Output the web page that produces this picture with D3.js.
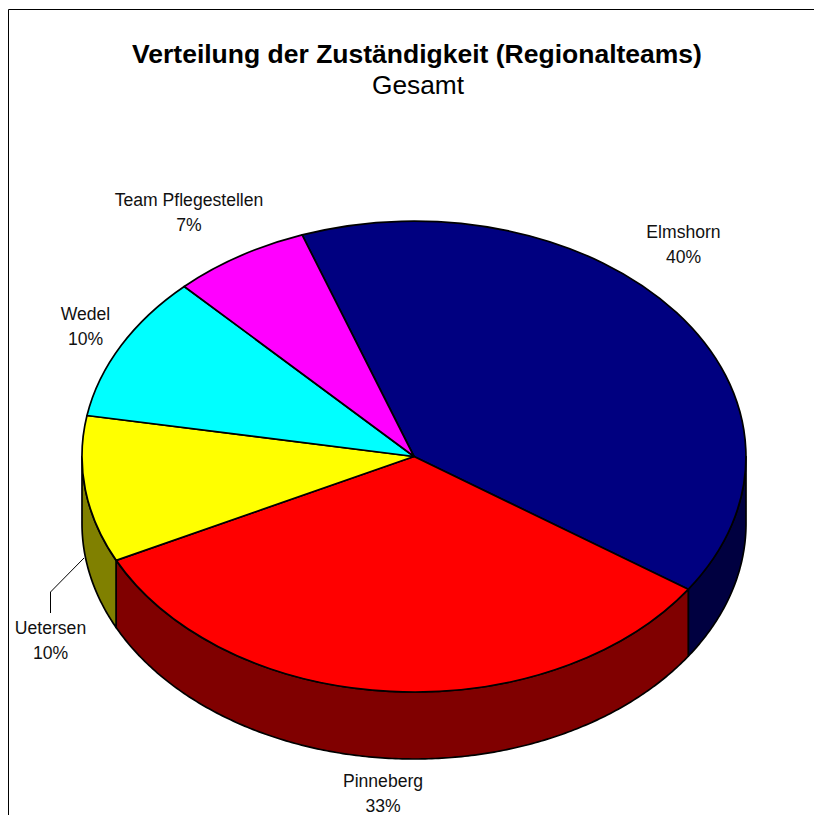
<!DOCTYPE html>
<html><head><meta charset="utf-8">
<script src="https://cdn.jsdelivr.net/npm/d3@7"></script>
<style>html,body{margin:0;padding:0;background:#fff}svg{display:block}</style></head>
<body><svg id="c" width="814" height="815"></svg>
<script>
const categories = ["Elmshorn","Pinneberg","Uetersen","Wedel","Team Pflegestellen"];
const values = [40,33.2,10.05,10.05,6.7];
const topColors = ["#000080","#ff0000","#ffff00","#00ffff","#ff00ff"];
const sideColors = ["#000040","#800000","#808000","#008080","#800080"];
const labelPos = [[683.5,246],[383,795],[50.5,641.5],[85.5,327.5],[189,213.5]];
const cx=414,cy=456.5,rx=332,ry=235.5,depth=67;
const startDeg=-19.7;
const svg=d3.select("#c");
svg.append("path").attr("d","M814,9.5H8.5V815").attr("fill","none").attr("stroke","#000").attr("stroke-width",1);
const pie=d3.pie().sort(null).startAngle(startDeg*Math.PI/180).endAngle((startDeg+360)*Math.PI/180);
const arcs=pie(values);
const px=a=>cx+rx*Math.sin(a), py=a=>cy-ry*Math.cos(a);
const line=d3.line();
const PI=Math.PI;
const SW=1.7;
arcs.forEach((d,i)=>{
  const a0=Math.max(d.startAngle,PI/2), a1=Math.min(d.endAngle,3*PI/2);
  if(a1<=a0) return;
  const n=Math.ceil((a1-a0)/0.01);
  const as=d3.range(n+1).map(k=>a0+(a1-a0)*k/n);
  const pts=as.map(a=>[px(a),py(a)]).concat(as.slice().reverse().map(a=>[px(a),py(a)+depth]));
  svg.append("path").attr("d",line(pts)+"Z").attr("fill",sideColors[i]).attr("stroke","#000").attr("stroke-width",SW).attr("stroke-linejoin","round");
});
const arc=d3.arc().innerRadius(0).outerRadius(1);
const g=svg.append("g").attr("transform",`translate(${cx},${cy}) scale(${rx},${ry})`);
g.selectAll("path").data(arcs).join("path").attr("d",arc).attr("fill",(d,i)=>topColors[i])
 .attr("stroke","#000").attr("stroke-width",SW).attr("vector-effect","non-scaling-stroke").attr("stroke-linejoin","round");
svg.append("path").attr("d",line([[84,558],[50.5,592],[50.5,613]])).attr("fill","none").attr("stroke","#000").attr("stroke-width",1);
const F="'Liberation Sans',Arial,sans-serif";
svg.append("text").attr("x",417).attr("y",63).attr("text-anchor","middle").attr("font-family",F).attr("font-size",26.5).attr("font-weight","bold").text("Verteilung der Zuständigkeit (Regionalteams)");
svg.append("text").attr("x",418).attr("y",94).attr("text-anchor","middle").attr("font-family",F).attr("font-size",26.3).text("Gesamt");
categories.forEach((c,i)=>{
  const t=svg.append("text").attr("text-anchor","middle").attr("font-family",F).attr("font-size",17.6).attr("fill","#111");
  t.append("tspan").attr("x",labelPos[i][0]).attr("y",labelPos[i][1]-8).text(c);
  t.append("tspan").attr("x",labelPos[i][0]).attr("y",labelPos[i][1]+17).text(Math.round(values[i])+"%");
});
</script></body></html>
